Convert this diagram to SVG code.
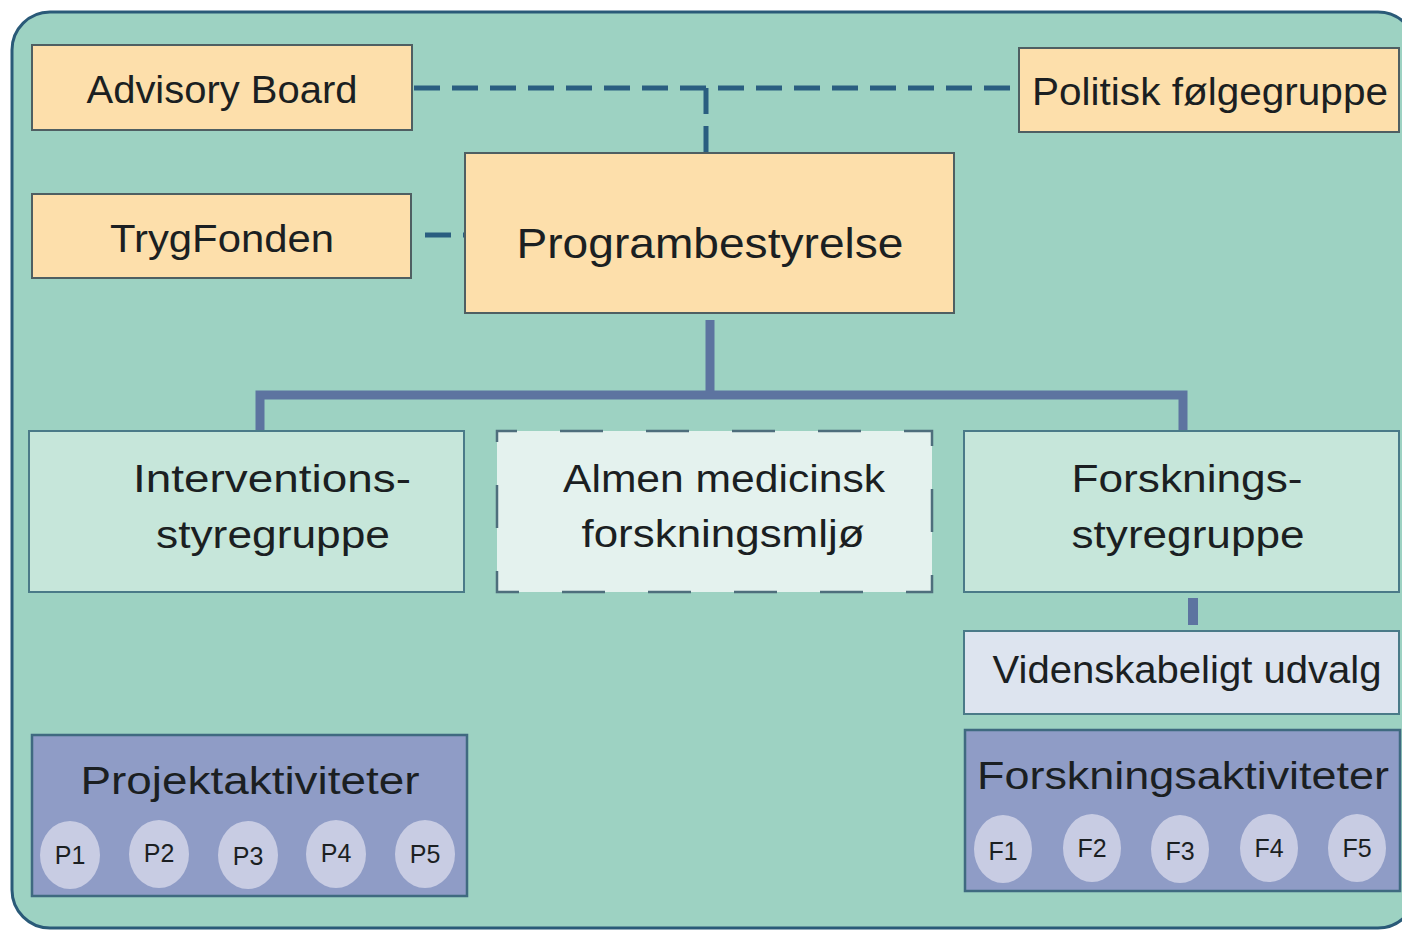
<svg xmlns="http://www.w3.org/2000/svg" width="1402" height="930" viewBox="0 0 1402 930">
<style>
text{font-family:"Liberation Sans","DejaVu Sans",sans-serif;fill:#1b1f22;text-anchor:middle}
.lg{font-size:38px}
.xl{font-size:42px}
.sm{font-size:25px}
.org{fill:#fddfab;stroke:#4f5f62;stroke-width:2}
.grn{fill:#c6e6da;stroke:#4a7a88;stroke-width:2}
.pur{fill:#8f9cc6;stroke:#3f6a80;stroke-width:2.5}
.ell{fill:#c8cce3}
</style>
<rect x="12" y="12" width="1404" height="916" rx="38" fill="#9dd2c2" stroke="#2a5a78" stroke-width="3"/>
<g id="connectors" fill="none">
<path d="M414 88H1019M706 88V153M425 235H465" stroke="#2a5e80" stroke-width="5" stroke-dasharray="26 12"/>
<path d="M710 320V395M260 430V395H1183V430" stroke="#5d74a0" stroke-width="9"/>
<path d="M1193 598V625" stroke="#5d74a0" stroke-width="10"/>
</g>
<g id="advisory"><rect class="org" x="32" y="45" width="380" height="85"/><text class="lg" x="222" y="103" textLength="271" lengthAdjust="spacingAndGlyphs">Advisory Board</text></g>
<g id="trygfonden"><rect class="org" x="32" y="194" width="379" height="84"/><text class="lg" x="222" y="252" textLength="224" lengthAdjust="spacingAndGlyphs">TrygFonden</text></g>
<g id="politisk"><rect class="org" x="1019" y="48" width="380" height="84"/><text class="lg" x="1210" y="105" textLength="356" lengthAdjust="spacingAndGlyphs">Politisk følgegruppe</text></g>
<g id="programbestyrelse"><rect class="org" x="465" y="153" width="489" height="160"/><text class="xl" x="710" y="258" textLength="387" lengthAdjust="spacingAndGlyphs">Programbestyrelse</text></g>
<g id="interventions"><rect class="grn" x="29" y="431" width="435" height="161"/><text class="lg" x="272" y="492" textLength="278" lengthAdjust="spacingAndGlyphs">Interventions-</text><text class="lg" x="273" y="548" textLength="234" lengthAdjust="spacingAndGlyphs">styregruppe</text></g>
<g id="almen"><rect x="497" y="431" width="435" height="161" fill="#e4f2ee" stroke="#4e6e7c" stroke-width="2.5" stroke-dasharray="43 43" stroke-dashoffset="23"/><text class="lg" x="724" y="492" textLength="322" lengthAdjust="spacingAndGlyphs">Almen medicinsk</text><text class="lg" x="723" y="547" textLength="283" lengthAdjust="spacingAndGlyphs">forskningsmljø</text></g>
<g id="forsknings"><rect class="grn" x="964" y="431" width="435" height="161"/><text class="lg" x="1187" y="492" textLength="231" lengthAdjust="spacingAndGlyphs">Forsknings-</text><text class="lg" x="1188" y="548" textLength="233" lengthAdjust="spacingAndGlyphs">styregruppe</text></g>
<g id="videnskabeligt"><rect x="964" y="631" width="435" height="83" fill="#dde4ef" stroke="#4a7a88" stroke-width="2"/><text class="lg" x="1187" y="683" textLength="389" lengthAdjust="spacingAndGlyphs">Videnskabeligt udvalg</text></g>
<g id="projektaktiviteter"><rect class="pur" x="32" y="735" width="435" height="161"/><text class="lg" x="250" y="794" textLength="339" lengthAdjust="spacingAndGlyphs">Projektaktiviteter</text>
<ellipse class="ell" cx="70" cy="855" rx="30" ry="34"/><ellipse class="ell" cx="159" cy="854" rx="30" ry="34"/><ellipse class="ell" cx="248" cy="855" rx="30" ry="34"/><ellipse class="ell" cx="336" cy="854" rx="30" ry="34"/><ellipse class="ell" cx="425" cy="854" rx="30" ry="34"/>
<text class="sm" x="70" y="864">P1</text><text class="sm" x="159" y="862">P2</text><text class="sm" x="248" y="865">P3</text><text class="sm" x="336" y="862">P4</text><text class="sm" x="425" y="863">P5</text></g>
<g id="forskningsaktiviteter"><rect class="pur" x="965" y="730" width="435" height="161"/><text class="lg" x="1183" y="789" textLength="412" lengthAdjust="spacingAndGlyphs">Forskningsaktiviteter</text>
<ellipse class="ell" cx="1003" cy="849" rx="29" ry="34"/><ellipse class="ell" cx="1092" cy="848" rx="29" ry="34"/><ellipse class="ell" cx="1180" cy="849" rx="29" ry="34"/><ellipse class="ell" cx="1269" cy="848" rx="29" ry="34"/><ellipse class="ell" cx="1357" cy="848" rx="29" ry="34"/>
<text class="sm" x="1003" y="860">F1</text><text class="sm" x="1092" y="857">F2</text><text class="sm" x="1180" y="860">F3</text><text class="sm" x="1269" y="857">F4</text><text class="sm" x="1357" y="857">F5</text></g>
</svg>
